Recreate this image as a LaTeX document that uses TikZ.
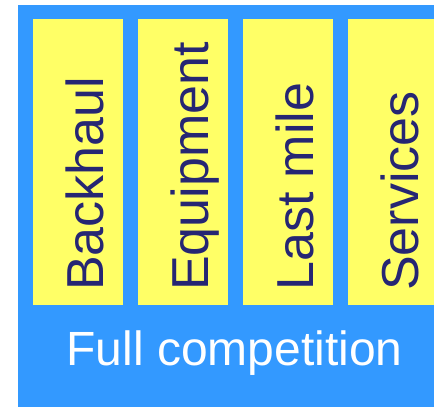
\documentclass[tikz,border=0pt]{standalone}
\usepackage{fontspec}
\setmainfont{Liberation Sans}
\definecolor{bgblue}{RGB}{51,153,255}
\definecolor{colyellow}{RGB}{255,255,102}
\definecolor{navytext}{RGB}{38,38,115}
\begin{document}
\begin{tikzpicture}[x=1pt,y=1pt,
  colbox/.style={fill=colyellow,draw=none},
  vlabel/.style={rotate=90,anchor=base west,inner sep=0pt,text=navytext,font=\fontsize{52}{56}\selectfont},
  flabel/.style={anchor=base,inner sep=0pt,text=white,font=\fontsize{48}{52}\selectfont}]
\useasboundingbox (0,0) rectangle (434,407);
\begin{scope}
\clip (0,0) rectangle (434,407);
\fill[bgblue] (18,0) rectangle (440,402);
\fill[colyellow] (33,102) rectangle (123,388);
\fill[colyellow] (138,102) rectangle (228,388);
\fill[colyellow] (243,102) rectangle (333,388);
\fill[colyellow] (348,102) rectangle (440,388);
\end{scope}
\node[vlabel] (b) at (103,116) {Backhaul};
\node[vlabel] (e) at (208,116) {Equipment};
\node[vlabel] (l) at (313,116) {Last mile};
\node[vlabel] (s) at (418,116) {Services};
\node[flabel] (f) at (234.5,41) {Full competition};
\end{tikzpicture}
\end{document}
